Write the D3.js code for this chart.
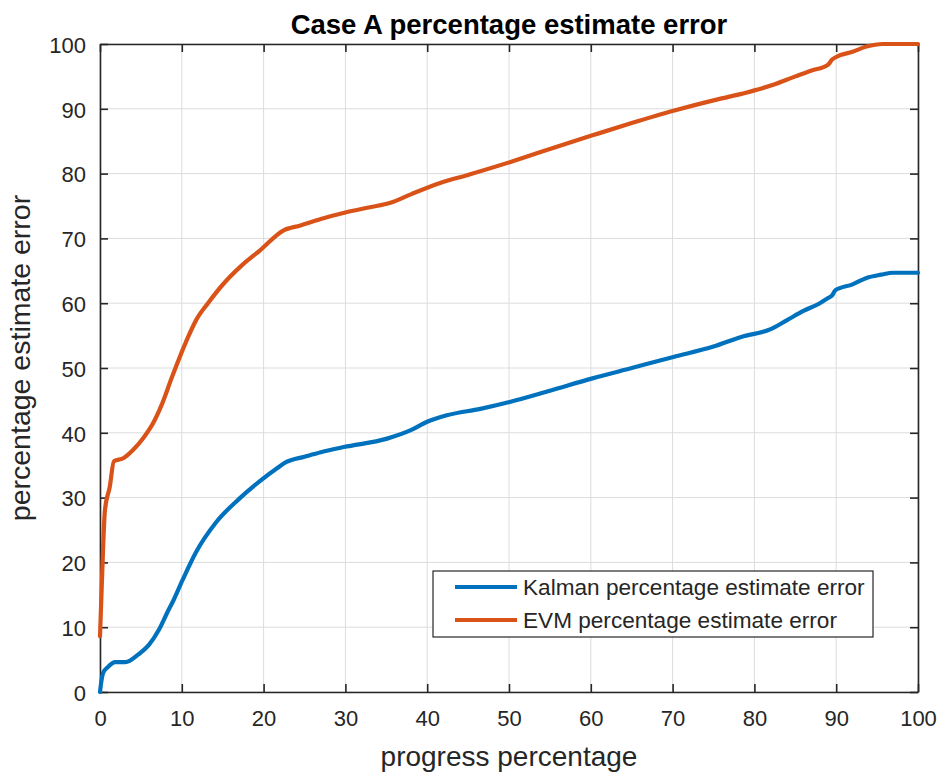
<!DOCTYPE html>
<html>
<head>
<meta charset="utf-8">
<script src="https://cdn.jsdelivr.net/npm/d3@7"></script>
<style>
  html, body { margin: 0; padding: 0; background: #fff; }
  text { font-family: "Liberation Sans", Arial, Helvetica, sans-serif; }
</style>
</head>
<body>
<svg id="chart" width="943" height="774"></svg>
<script>
const titleText = "Case A percentage estimate error";
const xLabelText = "progress percentage";
const yLabelText = "percentage estimate error";
const seriesNames = ["Kalman percentage estimate error", "EVM percentage estimate error"];
const xTicks = [0, 10, 20, 30, 40, 50, 60, 70, 80, 90, 100];
const yTicks = [0, 10, 20, 30, 40, 50, 60, 70, 80, 90, 100];

const kalmanX = [0, 0.15, 0.4, 1, 1.85, 3.1, 4.7, 6, 7.2, 8.2, 9, 10.1, 11.7, 14.2, 17, 19.5, 21.6, 22.8, 25, 27, 29.8, 35.1, 38, 40, 42.4, 46.5, 50.2, 55, 60.2, 65, 70.1, 75, 78.4, 82, 84, 86, 88, 89, 89.5, 89.9, 92, 93.7, 95.5, 97, 100];
const kalmanY = [0, 1.5, 3.0, 3.9, 4.6, 4.6, 5.8, 7.3, 9.6, 12.2, 14.2, 17.3, 21.5, 26.2, 29.8, 32.5, 34.5, 35.5, 36.3, 37.0, 37.8, 39.1, 40.4, 41.7, 42.7, 43.7, 44.8, 46.5, 48.4, 50.0, 51.7, 53.3, 54.8, 56.0, 57.4, 58.8, 60.0, 60.8, 61.2, 62.0, 62.9, 63.9, 64.4, 64.7, 64.7];

const evmX = [0, 0.15, 0.3, 0.6, 1.2, 1.7, 2.9, 4, 5.3, 6.5, 7.6, 8.8, 10.5, 11.8, 13.2, 15.1, 17.3, 19.6, 22.4, 24.5, 27, 30, 33, 35.5, 38, 41.5, 45, 50.2, 55, 60.2, 65, 70.1, 75, 78.4, 82.3, 85, 87, 89, 89.5, 90, 92, 93.7, 95.7, 97, 100];
const evmY = [8.6, 14, 19.4, 28, 31.7, 35.6, 36.1, 37.3, 39.2, 41.5, 44.5, 48.6, 54.0, 57.5, 60.0, 63.0, 65.8, 68.2, 71.2, 72.0, 73.0, 74.0, 74.8, 75.5, 76.8, 78.5, 79.8, 81.8, 83.8, 85.9, 87.8, 89.7, 91.3, 92.3, 93.7, 95.0, 95.9, 96.8, 97.6, 98.0, 98.8, 99.6, 100, 100, 100];

const colors = ["#0072BD", "#D95319"];
const series = [
  { name: seriesNames[0], color: colors[0], pts: kalmanX.map((x, i) => [x, kalmanY[i]]) },
  { name: seriesNames[1], color: colors[1], pts: evmX.map((x, i) => [x, evmY[i]]) }
];

const svg = d3.select("#chart");
const L = 100, R = 918, T = 44, B = 692;
const x = d3.scaleLinear().domain([0, 100]).range([L, R]);
const y = d3.scaleLinear().domain([0, 100]).range([B, T]);
const axisColor = "#262626";
const tickFont = 22;

// grid
const grid = svg.append("g");
grid.selectAll(".gx").data(xTicks).enter().append("line")
  .attr("x1", d => x(d)).attr("x2", d => x(d)).attr("y1", T).attr("y2", B)
  .attr("stroke", "#dcdcdc").attr("stroke-width", 1);
grid.selectAll(".gy").data(yTicks).enter().append("line")
  .attr("y1", d => y(d)).attr("y2", d => y(d)).attr("x1", L).attr("x2", R)
  .attr("stroke", "#dcdcdc").attr("stroke-width", 1);

// axes with inward ticks on all sides
const tl = 8;
const axB = svg.append("g").attr("transform", `translate(0,${B})`)
  .call(d3.axisBottom(x).tickValues(xTicks).tickSizeInner(-tl).tickSizeOuter(0).tickPadding(18));
const axT = svg.append("g").attr("transform", `translate(0,${T})`)
  .call(d3.axisTop(x).tickValues(xTicks).tickSizeInner(-tl).tickSizeOuter(0).tickFormat(""));
const axL = svg.append("g").attr("transform", `translate(${L},0)`)
  .call(d3.axisLeft(y).tickValues(yTicks).tickSizeInner(-tl).tickSizeOuter(0).tickPadding(14));
const axR = svg.append("g").attr("transform", `translate(${R},0)`)
  .call(d3.axisRight(y).tickValues(yTicks).tickSizeInner(-tl).tickSizeOuter(0).tickFormat(""));
[axB, axT, axL, axR].forEach(a => {
  a.select(".domain").attr("stroke", axisColor).attr("stroke-width", 1.6);
  a.selectAll(".tick line").attr("stroke", axisColor).attr("stroke-width", 1.6);
  a.selectAll(".tick text").attr("fill", axisColor).attr("font-size", tickFont)
    .attr("font-family", "'Liberation Sans', Arial, sans-serif");
});
axL.selectAll(".tick text").attr("dy", "0.38em");

// lines
const line = d3.line().x(d => x(d[0])).y(d => y(d[1])).curve(d3.curveMonotoneX);
series.forEach(s => {
  svg.append("path").datum(s.pts).attr("d", line)
    .attr("fill", "none").attr("stroke", s.color).attr("stroke-width", 4.2)
    .attr("stroke-linejoin", "round").attr("stroke-linecap", "round");
});

// title & labels
svg.append("text").attr("x", (L + R) / 2).attr("y", 34).attr("text-anchor", "middle")
  .attr("font-size", 27.5).attr("font-weight", "bold").attr("fill", "#000").text(titleText);
svg.append("text").attr("x", (L + R) / 2).attr("y", 766).attr("text-anchor", "middle")
  .attr("font-size", 28).attr("fill", axisColor).text(xLabelText);
svg.append("text").attr("transform", `translate(30,${(T + B) / 2 - 10}) rotate(-90)`)
  .attr("text-anchor", "middle").attr("font-size", 28.5).attr("fill", axisColor).text(yLabelText);

// legend
const lg = svg.append("g");
lg.append("rect").attr("x", 433).attr("y", 571).attr("width", 440).attr("height", 66)
  .attr("fill", "#fff").attr("stroke", axisColor).attr("stroke-width", 1.2);
series.forEach((s, i) => {
  const ly = 587 + i * 33;
  lg.append("line").attr("x1", 455).attr("x2", 517).attr("y1", ly).attr("y2", ly)
    .attr("stroke", s.color).attr("stroke-width", 4);
  lg.append("text").attr("x", 523).attr("y", ly).attr("dy", "0.36em")
    .attr("font-size", 22.6).attr("fill", axisColor).text(s.name);
});
</script>
</body>
</html>
